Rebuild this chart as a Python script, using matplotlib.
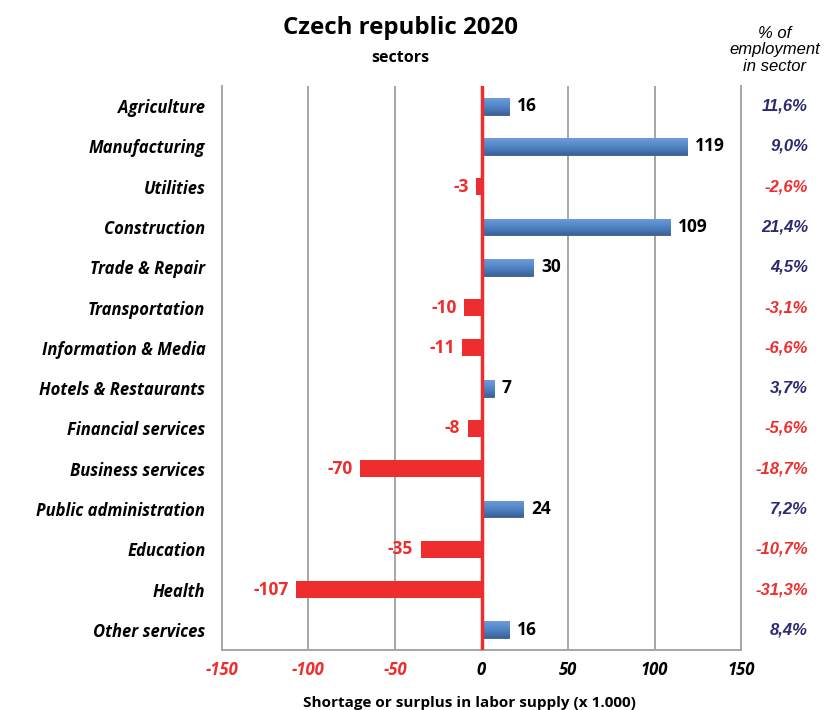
import matplotlib
matplotlib.use("Agg")
import matplotlib.pyplot as plt
import numpy as np
from matplotlib.colors import LinearSegmentedColormap

sectors = [
    "Agriculture", "Manufacturing", "Utilities", "Construction",
    "Trade & Repair", "Transportation", "Information & Media",
    "Hotels & Restaurants", "Financial services", "Business services",
    "Public administration", "Education", "Health", "Other services",
]
balance = [16, 119, -3, 109, 30, -10, -11, 7, -8, -70, 24, -35, -107, 16]
share_pct = ["11,6%", "9,0%", "-2,6%", "21,4%", "4,5%", "-3,1%", "-6,6%",
             "3,7%", "-5,6%", "-18,7%", "7,2%", "-10,7%", "-31,3%", "8,4%"]
x_ticks = [-150, -100, -50, 0, 50, 100, 150]

RED = "#EE2E2E"
BLUE = "#4F81BD"
NAVY = "#2B2A72"
GRID = "#A6A6A6"
FONT = "Open Sans"

fig = plt.figure(figsize=(8.24, 7.10), dpi=100)
ax = fig.add_axes([0.2694, 0.0845, 0.6299, 0.7944])

y = np.arange(len(sectors))
colors = [BLUE if v >= 0 else RED for v in balance]
bars = ax.barh(y, balance, height=0.42, color=colors, zorder=3)

# shaded fill for the positive bars
cmap = LinearSegmentedColormap.from_list("blueshade", ["#6E9CD8", "#5185C6", "#3C6197"])
grad = np.linspace(0, 1, 64).reshape(-1, 1)
for b, v in zip(bars, balance):
    if v > 0:
        x0, y0 = b.get_x(), b.get_y()
        w, h = b.get_width(), b.get_height()
        im = ax.imshow(grad, cmap=cmap, aspect="auto", extent=(x0, x0 + w, y0 + h, y0),
                       origin="upper", zorder=3.5, interpolation="bilinear")
        im.set_clip_path(b)
        b.set_edgecolor("#3A5C8C")
        b.set_linewidth(0.6)

ax.set_xlim(-150, 150)
ax.set_ylim(len(sectors) - 0.5, -0.5)

# gridlines and zero line
for t in x_ticks[1:-1]:
    if t != 0:
        ax.axvline(t, color=GRID, lw=1.4, zorder=1)
ax.axvline(0, color=RED, lw=2.5, zorder=5)

for s in ["left", "right", "bottom"]:
    ax.spines[s].set_color(GRID)
    ax.spines[s].set_linewidth(1.4)
ax.spines["top"].set_visible(False)

ax.set_xticks(x_ticks)
ax.set_xticklabels([str(t) for t in x_ticks])
for lbl, t in zip(ax.get_xticklabels(), x_ticks):
    lbl.set_color(RED if t < 0 else "black")
    lbl.set_fontfamily(FONT)
    lbl.set_fontweight("bold")
    lbl.set_fontstyle("italic")
    lbl.set_fontsize(12)
ax.tick_params(axis="x", length=0, pad=8)

ax.set_yticks(y)
ax.set_yticklabels(sectors, fontfamily=FONT, fontweight="bold", fontstyle="italic", fontsize=12)
ax.tick_params(axis="y", length=0, pad=12)

# value labels
for yi, v in zip(y, balance):
    if v >= 0:
        ax.text(v + 4.5, yi, str(v), ha="left", va="center", fontfamily=FONT,
                fontweight="bold", fontsize=12.5, color="black", zorder=6)
    else:
        ax.text(v - 4.5, yi, str(v), ha="right", va="center", fontfamily=FONT,
                fontweight="bold", fontsize=12.5, color=RED, zorder=6)

# employment share column
tr = ax.get_yaxis_transform()
x_right = (808 - 222) / 519
for yi, p in zip(y, share_pct):
    ax.text(x_right, yi, p, transform=tr, ha="right", va="center",
            fontfamily="Liberation Sans", fontweight="bold", fontstyle="italic",
            fontsize=12, color=RED if p.startswith("-") else NAVY, clip_on=False)

fig.text(0.9405, 0.9296, "% of\nemployment\nin sector", ha="center", va="center",
         fontfamily="Liberation Sans", fontstyle="italic", fontsize=12,
         linespacing=1.1, color="black")

fig.text(0.4855, 0.960, "Czech republic 2020", ha="center", va="center",
         fontfamily=FONT, fontweight="bold", fontsize=17.3, color="black")
fig.text(0.4855, 0.919, "sectors", ha="center", va="center",
         fontfamily=FONT, fontweight="bold", fontsize=11.5, color="black")

fig.text(0.570, 0.010, "Shortage or surplus in labor supply (x 1.000)", ha="center",
         va="center", fontfamily=FONT, fontweight="bold", fontsize=11, color="black")

fig.savefig("out.png", dpi=100, facecolor="white")
